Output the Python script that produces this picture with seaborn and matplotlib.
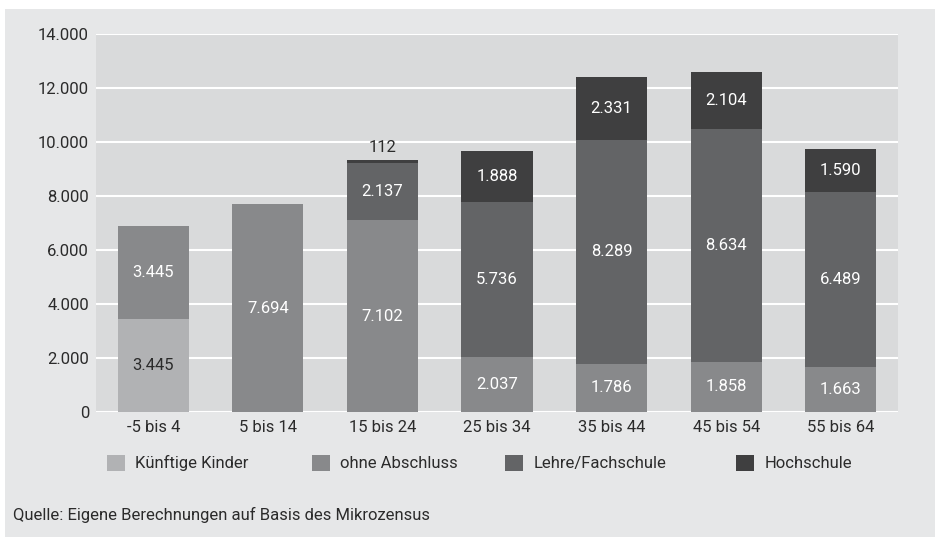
import matplotlib
matplotlib.use("Agg")
import matplotlib.pyplot as plt
from matplotlib.patches import Rectangle, Patch
import seaborn as sns
import numpy as np
import pandas as pd

categories = ["-5 bis 4", "5 bis 14", "15 bis 24", "25 bis 34", "35 bis 44", "45 bis 54", "55 bis 64"]
kinder = [3445, 0, 0, 0, 0, 0, 0]
ohne = [3445, 7694, 7102, 2037, 1786, 1858, 1663]
lehre = [0, 0, 2137, 5736, 8289, 8634, 6489]
hoch = [0, 0, 112, 1888, 2331, 2104, 1590]
series_names = ["Künftige Kinder", "ohne Abschluss", "Lehre/Fachschule", "Hochschule"]
colors = ["#b1b2b4", "#88898b", "#636466", "#3f3f40"]
yticks = [0, 2000, 4000, 6000, 8000, 10000, 12000, 14000]
source = "Quelle: Eigene Berechnungen auf Basis des Mikrozensus"

sns.set_theme(style="white")
plt.rcParams["font.family"] = ["Roboto", "DejaVu Sans"]

def fmt(v):
    return f"{v:,.0f}".replace(",", ".")

FS = 12
TXT = "#2b2b2b"

fig = plt.figure(figsize=(9.35, 5.37), dpi=100, facecolor="white")
fig.patches.append(Rectangle((5 / 935, 0), 1, (537 - 9) / 537, transform=fig.transFigure,
                             facecolor="#e6e7e8", edgecolor="none", zorder=-10))
ax = fig.add_axes([96 / 935, (537 - 412) / 537, (898 - 96) / 935, (412 - 34) / 537])
ax.set_facecolor("#d9dadb")

series = [kinder, ohne, lehre, hoch]
bottoms = np.zeros(len(categories))
for name, vals, col in zip(series_names, series, colors):
    df = pd.DataFrame({"cat": categories, "val": vals})
    sns.barplot(data=df, x="cat", y="val", color=col, bottom=bottoms, width=0.62,
                saturation=1, ax=ax, zorder=3, linewidth=0)
    for i, v in enumerate(vals):
        if v <= 0:
            continue
        if v < 500:
            ax.text(i, bottoms[i] + v + 150, fmt(v), ha="center", va="bottom",
                    fontsize=FS, color=TXT, zorder=5)
        else:
            tc = TXT if name == "Künftige Kinder" else "white"
            ax.text(i, bottoms[i] + v / 2, fmt(v), ha="center", va="center",
                    fontsize=FS, color=tc, zorder=5)
    bottoms = bottoms + np.array(vals)

ax.set_ylim(0, 14000)
ax.set_xlim(-0.5, len(categories) - 0.5)
ax.set_yticks(yticks)
ax.set_yticklabels([fmt(v) for v in yticks])
ax.yaxis.grid(True, color="white", linewidth=1.5, zorder=0)
ax.set_axisbelow(True)
for s in ax.spines.values():
    s.set_visible(False)
ax.tick_params(axis="both", length=0, labelsize=FS, labelcolor=TXT)
ax.tick_params(axis="y", pad=5)
ax.tick_params(axis="x", pad=6)
ax.set_xlabel("")
ax.set_ylabel("")

leg_x = [107, 312, 505, 736]
for x, name, col in zip(leg_x, series_names, colors):
    h = Patch(facecolor=col, edgecolor="none")
    fig.legend(handles=[h], labels=[name], loc="center left",
               bbox_to_anchor=(x / 935, (537 - 463) / 537), frameon=False,
               fontsize=FS, handlelength=1.1, handleheight=1.1, handletextpad=0.6,
               borderpad=0, borderaxespad=0, labelcolor=TXT)

fig.text(13 / 935, (537 - 515) / 537, source, ha="left", va="center", fontsize=FS, color=TXT)

fig.savefig("out.png", dpi=100, facecolor="white")
